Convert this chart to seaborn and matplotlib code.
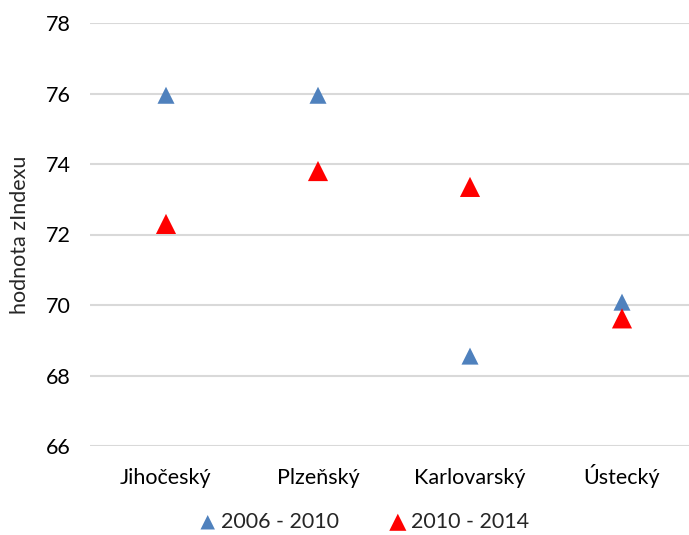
import pandas as pd
import numpy as np
import matplotlib.pyplot as plt
import seaborn as sns

sns.set_style("white")
plt.rcParams['font.family'] = ['Lato', 'DejaVu Sans']

# Data
kraje = ['Jihočeský', 'Plzeňský', 'Karlovarský', 'Ústecký']
obdobi_1 = [75.95, 75.95, 68.55, 70.08]   # 2006 - 2010
obdobi_2 = [72.30, 73.80, 73.35, 69.62]   # 2010 - 2014
series_names = ['2006 - 2010', '2010 - 2014']
series_colors = ['#4F81BD', '#FF0000']
y_ticks = [66, 68, 70, 72, 74, 76, 78]

df = pd.DataFrame({
    'kraj': kraje * 2,
    'hodnota': obdobi_1 + obdobi_2,
    'obdobi': [series_names[0]] * 4 + [series_names[1]] * 4,
})

fig = plt.figure(figsize=(6.89, 5.35), dpi=100)
ax = fig.add_axes([90 / 689, 1 - 446 / 535, 608 / 689, 423 / 535])

for name, color, size in zip(series_names, series_colors, [150, 210]):
    sub = df[df['obdobi'] == name]
    sns.scatterplot(data=sub, x='kraj', y='hodnota', marker='^', color=color,
                    s=size, edgecolor='none', ax=ax, label=name, zorder=3)

ax.set_xlim(-0.5, 3.5)
ax.set_ylim(66, 78)
ax.set_yticks(y_ticks)
ax.yaxis.grid(True, color='#D9D9D9', linewidth=1.5)
ax.set_axisbelow(True)
for sp in ax.spines.values():
    sp.set_visible(False)
ax.tick_params(axis='both', length=0, labelsize=15.5, colors='#000000')
ax.tick_params(axis='x', pad=27)
ax.tick_params(axis='y', pad=14)
# keep the category names on one baseline (Ú has an accent on top)
for lab in ax.get_xticklabels():
    lab.set_verticalalignment('baseline')
ax.set_xlabel('')
ax.set_ylabel('hodnota zIndexu', fontsize=15.5, labelpad=11)

ax.legend(loc='upper center', bbox_to_anchor=(0.44, -0.11), ncol=2, frameon=False,
          fontsize=15.5, handletextpad=-0.4, columnspacing=1.75, markerscale=0.85)

plt.savefig('out.png', dpi=100)
plt.close()
